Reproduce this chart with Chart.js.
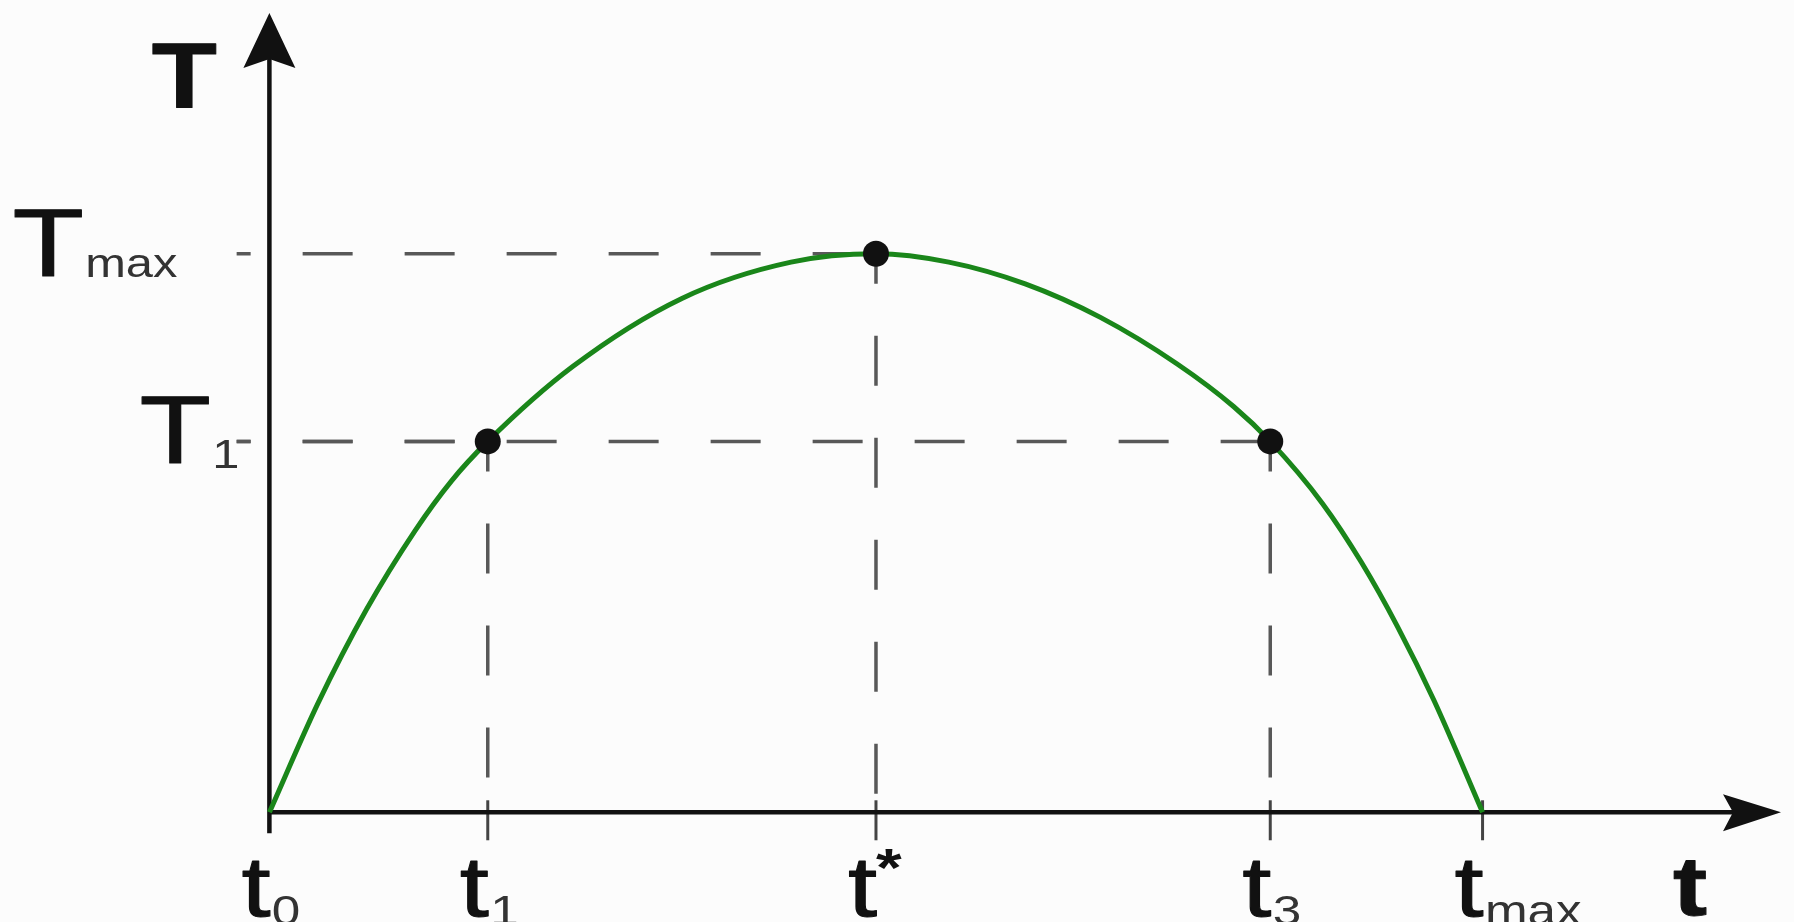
<!DOCTYPE html>
<html>
<head>
<meta charset="utf-8">
<title>T(t)</title>
<script src="https://cdn.jsdelivr.net/npm/chart.js@4.4.1/dist/chart.umd.min.js"></script>
<style>
  html, body { margin: 0; padding: 0; background: #fcfcfc; overflow: hidden; }
  #wrap { position: relative; width: 1794px; height: 922px; }
</style>
</head>
<body>
<div id="wrap"><canvas id="chart"></canvas></div>
<script>
// curve: t in units of t_max, T in units of T_max
const curveT    = [0, 0.04, 0.08, 0.12, 0.15, 0.18, 0.25, 0.34, 0.43, 0.5, 0.56, 0.623, 0.685, 0.748, 0.795, 0.825, 0.868, 0.90, 0.93, 0.96, 1.0];
const curveTemp = [0, 0.195, 0.363, 0.504, 0.593, 0.664, 0.798, 0.92, 0.985, 1.0, 0.985, 0.946, 0.886, 0.803, 0.726, 0.664, 0.553, 0.448, 0.332, 0.20, 0];

// marked points (t1, t*, t3)
const markT    = [0.18, 0.5, 0.825];
const markTemp = [0.664, 1.0, 0.664];

// tick labels
const xTickValues = [0, 0.18, 0.5, 0.825, 1.0];
const xTickLabels = [
  { base: 't', sub: '0' },
  { base: 't', sub: '1' },
  { base: 't', sup: '*' },
  { base: 't', sub: '3' },
  { base: 't', sub: 'max' }
];
const yTickValues = [0.664, 1.0];
const yTickLabels = [
  { base: 'T', sub: '1' },
  { base: 'T', sub: 'max' }
];
const xTitle = 't';
const yTitle = 'T';

// ==========================================
// STYLE
// ==========================================

const FONT = '"Liberation Sans", Arial, sans-serif';
const SX = 1.22;            // reference text is stretched sideways
const GUIDE_LEFT = -0.027;  // dashed guides start just left of the T axis
const GREEN = '#1a861a';
const DASH_COLOR = '#585858';
const INK = '#111';
const SUB_INK = '#333';

// ==========================================
// DATASETS
// ==========================================

const curvePoints = curveT.map((t, i) => ({ x: t, y: curveTemp[i] }));
const markPoints = markT.map((t, i) => ({ x: t, y: markTemp[i] }));

const guideSets = [];
markT.forEach((t, i) => {
  guideSets.push({ data: [{ x: GUIDE_LEFT, y: markTemp[i] }, { x: t, y: markTemp[i] }], offset: 36 });
  guideSets.push({ data: [{ x: t, y: markTemp[i] }, { x: t, y: 0 }], offset: 20 });
});

const datasets = [
  {
    label: 'points',
    data: markPoints,
    showLine: false,
    pointRadius: 13,
    pointBackgroundColor: INK,
    pointBorderWidth: 0,
    order: 0
  },
  {
    label: 'T(t)',
    data: curvePoints,
    showLine: true,
    borderColor: GREEN,
    borderWidth: 5,
    pointRadius: 0,
    cubicInterpolationMode: 'monotone',
    order: 1
  },
  ...guideSets.map(g => ({
    label: 'guide',
    data: g.data,
    showLine: true,
    borderColor: DASH_COLOR,
    borderWidth: 3.5,
    borderDash: [50, 52],
    borderDashOffset: g.offset,
    pointRadius: 0,
    order: 2
  }))
];

// ==========================================
// AXES, ARROWS AND LABELS
// ==========================================

function putText(ctx, text, x, y, font, heavy) {
  ctx.font = font;
  ctx.fillText(text, x, y);
  if (heavy) ctx.strokeText(text, x, y);
  return ctx.measureText(text).width;
}

function drawSymbol(ctx, left, baseline, lab, bigFont, smallFont, subDrop) {
  ctx.save();
  ctx.translate(left, baseline);
  ctx.scale(SX, 1);
  ctx.textAlign = 'left';
  ctx.textBaseline = 'alphabetic';
  ctx.fillStyle = INK;
  const w = putText(ctx, lab.base, 0, 0, bigFont, true);
  if (lab.sup) putText(ctx, lab.sup, w - 1, -30, 'bold 54px ' + FONT, false);
  ctx.fillStyle = SUB_INK;
  if (lab.sub) putText(ctx, lab.sub, w + 1, subDrop, smallFont, false);
  ctx.restore();
}

const axesPlugin = {
  id: 'arrowAxes',
  beforeDraw(chart) {
    const ctx = chart.ctx;
    ctx.save();
    ctx.fillStyle = '#fcfcfc';
    ctx.fillRect(0, 0, chart.width, chart.height);
    ctx.restore();
  },
  beforeDatasetsDraw(chart) {
    const { ctx, scales: { x, y } } = chart;
    const x0 = x.getPixelForValue(0);
    const y0 = y.getPixelForValue(0);
    ctx.save();

    // tick marks across the t axis
    ctx.strokeStyle = '#444';
    ctx.lineWidth = 3;
    xTickValues.slice(1).forEach(v => {
      const px = x.getPixelForValue(v);
      ctx.beginPath();
      ctx.moveTo(px, y0 - 12);
      ctx.lineTo(px, y0 + 28);
      ctx.stroke();
    });

    ctx.strokeStyle = INK;
    ctx.fillStyle = INK;
    ctx.lineWidth = 4.5;
    ctx.beginPath();
    ctx.moveTo(x0, y0 + 21);
    ctx.lineTo(x0, y.top + 40);
    ctx.moveTo(x0, y0);
    ctx.lineTo(x.right - 40, y0);
    ctx.stroke();

    // arrow heads
    const top = y.top;
    ctx.beginPath();
    ctx.moveTo(x0, top);
    ctx.lineTo(x0 + 26, top + 55);
    ctx.lineTo(x0, top + 46);
    ctx.lineTo(x0 - 26, top + 55);
    ctx.closePath();
    ctx.fill();

    const right = x.right;
    ctx.beginPath();
    ctx.moveTo(right, y0);
    ctx.lineTo(right - 58, y0 - 18);
    ctx.lineTo(right - 48, y0);
    ctx.lineTo(right - 58, y0 + 19);
    ctx.closePath();
    ctx.fill();
    ctx.restore();
  },
  afterDraw(chart) {
    const { ctx, scales: { x, y } } = chart;
    const x0 = x.getPixelForValue(0);
    ctx.save();
    ctx.strokeStyle = INK;
    ctx.lineWidth = 1;
    ctx.lineJoin = 'round';

    // t labels
    xTickValues.forEach((v, i) => {
      const px = x.getPixelForValue(v);
      drawSymbol(ctx, px - 28, 916, xTickLabels[i],
        '86px ' + FONT, '42px ' + FONT, 9);
    });

    // T labels
    const yLeft = [x0 - 130, x0 - 257];
    const subDrop = [5, 1];
    yTickValues.forEach((v, i) => {
      const py = y.getPixelForValue(v);
      drawSymbol(ctx, yLeft[i], py + 22, yTickLabels[i],
        '96px ' + FONT, '40px ' + FONT, subDrop[i]);
    });

    // axis titles
    ctx.fillStyle = INK;
    ctx.textAlign = 'center';
    ctx.textBaseline = 'alphabetic';
    ctx.save();
    ctx.translate(x0 - 85, 108);
    ctx.scale(SX * 0.95, 1);
    putText(ctx, yTitle, 0, 0, 'bold 92px ' + FONT, true);
    ctx.restore();

    ctx.save();
    ctx.translate(x.right - 91, 915);
    ctx.scale(SX, 1);
    putText(ctx, xTitle, 0, 0, 'bold 84px ' + FONT, true);
    ctx.restore();

    ctx.restore();
  }
};

const canvas = document.getElementById('chart');
new Chart(canvas.getContext('2d'), {
  type: 'scatter',
  data: { datasets },
  options: {
    responsive: true,
    maintainAspectRatio: false,
    animation: false,
    events: [],
    layout: { padding: { left: 233, right: 4, top: 12, bottom: 79 } },
    plugins: {
      legend: { display: false },
      tooltip: { enabled: false }
    },
    scales: {
      x: { type: 'linear', min: -0.03, max: 1.246, display: false },
      y: { type: 'linear', min: -0.055, max: 1.431, display: false }
    }
  },
  plugins: [axesPlugin]
});
</script>
</body>
</html>
